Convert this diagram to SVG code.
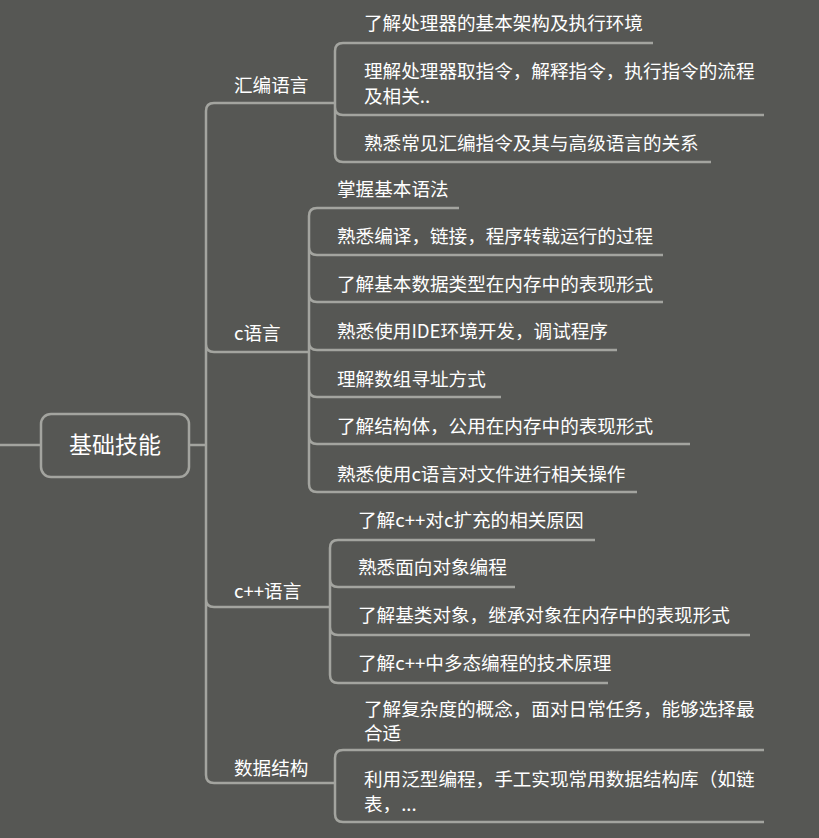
<svg xmlns="http://www.w3.org/2000/svg" width="819" height="838" viewBox="0 0 819 838">
<style>
.l{fill:none;stroke:#a3a49f;stroke-width:2.5}
text{font-family:"Noto Sans CJK SC","Liberation Sans",sans-serif;fill:#ffffff;font-size:18.6px}
</style>
<rect width="819" height="838" fill="#565754"/>
<g id="connectors">
<path class="l" d="M0 445H41M189 445H206"/>
<path class="l" d="M206 445V111Q206 103 214 103H335M206 445V344Q206 352 214 352H309M206 445V599Q206 607 214 607H330M206 445V775Q206 783 214 783H335"/>
<path class="l" d="M653 43H343Q335 43 335 51V154Q335 162 343 162H711M335 103V107Q335 115 343 115H764"/>
<path class="l" d="M459 208H317Q309 208 309 216V484Q309 492 317 492H637M309 255V247Q309 255 317 255H663M309 302V294Q309 302 317 302H663M309 350V342Q309 350 317 350H617M309 397V389Q309 397 317 397H501M309 444V436Q309 444 317 444H690"/>
<path class="l" d="M595 540H338Q330 540 330 548V675Q330 683 338 683H608M330 587V579Q330 587 338 587H515M330 635V627Q330 635 338 635H750"/>
<path class="l" d="M764 750H343Q335 750 335 758V814Q335 822 343 822H764"/>
</g>
<g id="root"><rect x="41" y="414" width="148" height="63" rx="10" fill="#565754" stroke="#a3a49f" stroke-width="2.5"/><text x="115" y="453" text-anchor="middle" style="font-size:23px">基础技能</text></g>
<g id="b1"><text x="234" y="92">汇编语言</text></g>
<g id="b2"><text x="234" y="340">c语言</text></g>
<g id="b3"><text x="234" y="598">c++语言</text></g>
<g id="b4"><text x="234" y="775">数据结构</text></g>
<g id="n1"><text x="364" y="30">了解处理器的基本架构及执行环境</text></g>
<g id="n2"><text x="364" y="78">理解处理器取指令，解释指令，执行指令的流程</text><text x="364" y="103">及相关..</text></g>
<g id="n3"><text x="364" y="150">熟悉常见汇编指令及其与高级语言的关系</text></g>
<g id="n4"><text x="337" y="196">掌握基本语法</text></g>
<g id="n5"><text x="337" y="243">熟悉编译，链接，程序转载运行的过程</text></g>
<g id="n6"><text x="337" y="291">了解基本数据类型在内存中的表现形式</text></g>
<g id="n7"><text x="337" y="338">熟悉使用IDE环境开发，调试程序</text></g>
<g id="n8"><text x="337" y="386">理解数组寻址方式</text></g>
<g id="n9"><text x="337" y="433">了解结构体，公用在内存中的表现形式</text></g>
<g id="n10"><text x="337" y="481">熟悉使用c语言对文件进行相关操作</text></g>
<g id="n11"><text x="358" y="527">了解c++对c扩充的相关原因</text></g>
<g id="n12"><text x="358" y="574">熟悉面向对象编程</text></g>
<g id="n13"><text x="358" y="622">了解基类对象，继承对象在内存中的表现形式</text></g>
<g id="n14"><text x="358" y="670">了解c++中多态编程的技术原理</text></g>
<g id="n15"><text x="364" y="716">了解复杂度的概念，面对日常任务，能够选择最</text><text x="364" y="740">合适</text></g>
<g id="n16"><text x="364" y="786">利用泛型编程，手工实现常用数据结构库（如链</text><text x="364" y="811">表，...</text></g>
</svg>
